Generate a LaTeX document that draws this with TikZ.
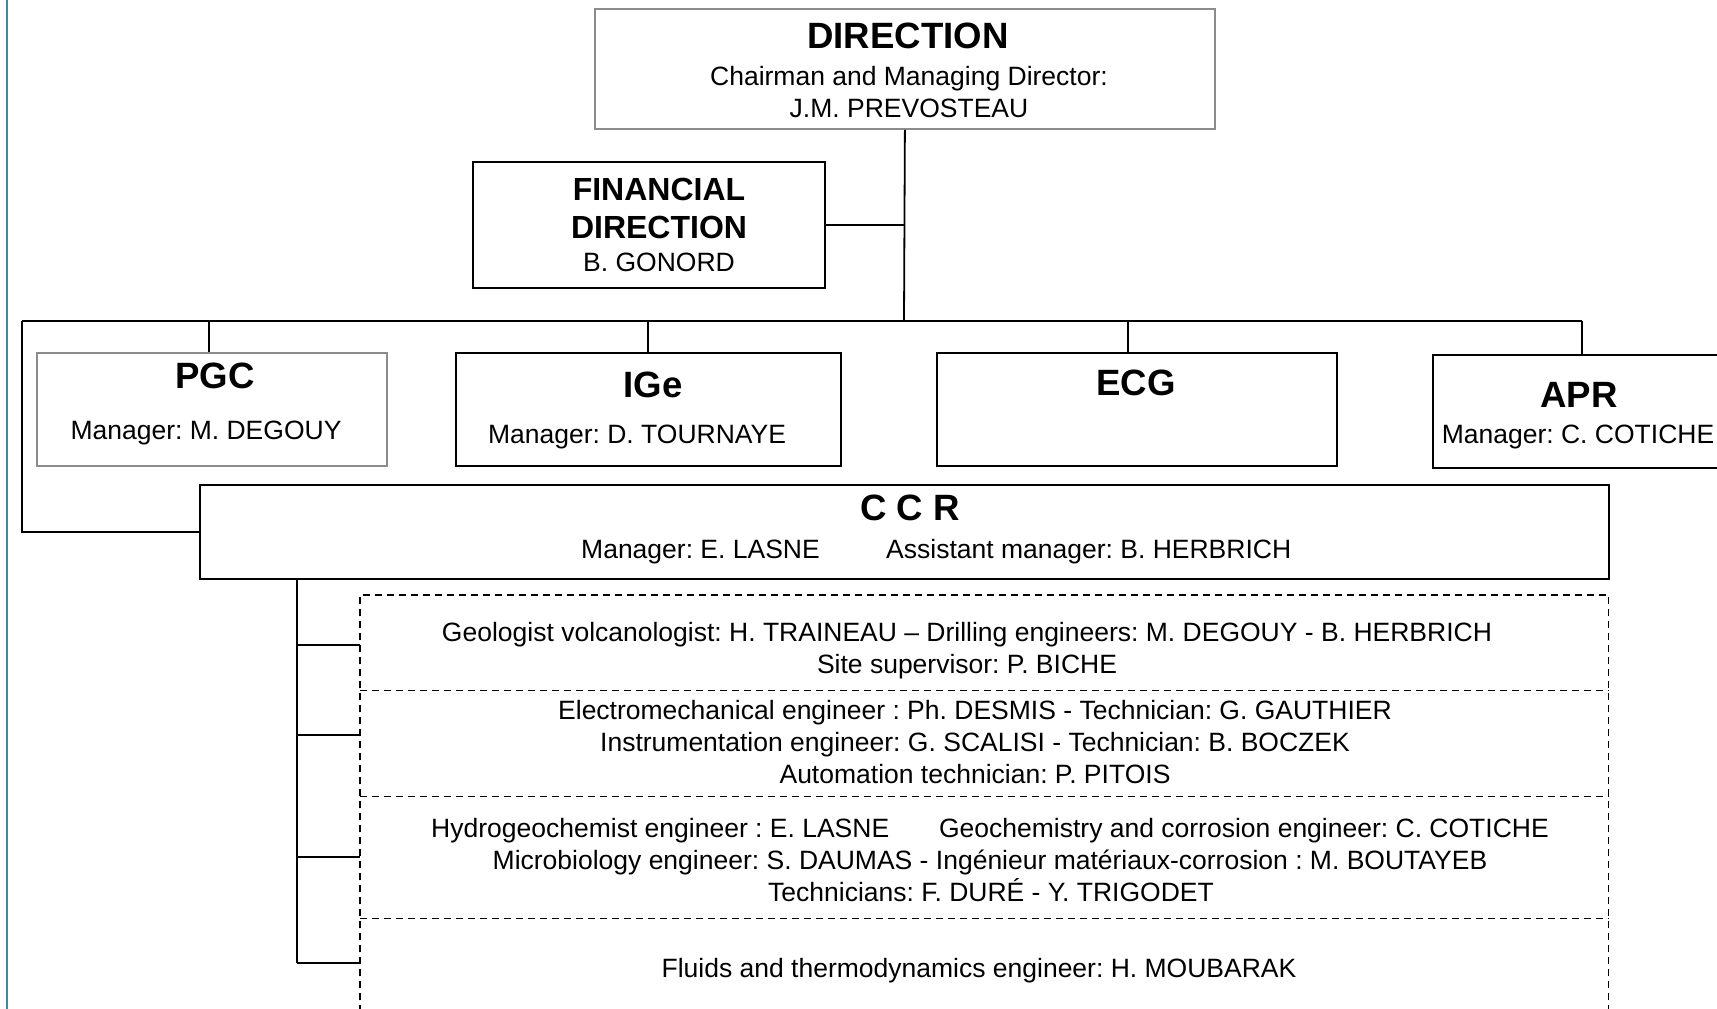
\documentclass[tikz,border=0pt]{standalone}
\usepackage{fontspec}
\setmainfont{Liberation Sans}
\frenchspacing
\definecolor{edgeblue}{RGB}{72,132,160}
\definecolor{boxgray}{RGB}{140,140,140}
\begin{document}
\begin{tikzpicture}[x=1pt,y=-1pt,
  box/.style={draw=black,line width=1.8pt,rectangle,inner sep=0pt,anchor=north west},
  graybox/.style={box,draw=boxgray},
  row/.style={draw=none,rectangle,inner sep=0pt,anchor=north west,minimum width=1248pt},
  dashline/.style={line width=1.5pt,dash pattern=on 7pt off 5pt},
  conn/.style={line width=1.8pt},
  txt/.style={font=\fontsize{26.5}{31}\selectfont,inner sep=0pt,anchor=base},
  big/.style={font=\fontsize{36.6}{44}\selectfont\bfseries,inner sep=0pt,anchor=base},
  fin/.style={font=\fontsize{32}{38}\selectfont\bfseries,inner sep=0pt,anchor=base}]
\path[use as bounding box] (0,0) rectangle (1717,1009);
\clip (0,0) rectangle (1717,1009);
\fill[white] (0,0) rectangle (1717,1009);

% left page edge
\draw[edgeblue,line width=2.5pt] (7,-5) -- (7,1015);

% boxes
\node[graybox,minimum width=620pt,minimum height=120pt] (dir) at (594,8) {};
\node[box,minimum width=352pt,minimum height=126pt] (fin) at (472,161) {};
\node[graybox,minimum width=350pt,minimum height=113pt] (pgc) at (36,352) {};
\node[box,minimum width=385pt,minimum height=113pt] (ige) at (455,352) {};
\node[box,minimum width=400pt,minimum height=113pt] (ecg) at (936,352) {};
\node[box,minimum width=330pt,minimum height=113pt] (apr) at (1432,354) {};
\node[box,minimum width=1409pt,minimum height=94pt] (ccr) at (199,484) {};

% dashed team rows
\node[row,minimum height=95pt] (r1) at (360,595) {};
\node[row,minimum height=106pt] (r2) at (360,690) {};
\node[row,minimum height=122pt] (r3) at (360,796) {};
\node[row,minimum height=130pt] (r4) at (360,918) {};
\draw[dashline] (r4.south west) -- (r1.north west) -- (r1.north east) -- (r4.south east);
\draw[dashline] (r1.south west) -- (r1.south east);
\draw[dashline] (r2.south west) -- (r2.south east);
\draw[dashline] (r3.south west) -- (r3.south east);

% connectors
\coordinate (hub) at (904,321);
\coordinate (busL) at (22,321);
\coordinate (busR) at (1582,321);
\coordinate (tP) at (209,321);
\coordinate (tI) at (648,321);
\coordinate (tE) at (1128,321);
\draw[conn] (dir.south) -- (hub);
\draw[conn] (fin.east) -- (fin.east -| hub);
\draw[conn] (busL) -- (busR);
\draw[conn] (tP) -- (tP |- pgc.north);
\draw[conn] (tI) -- (tI |- ige.north);
\draw[conn] (tE) -- (tE |- ecg.north);
\draw[conn] (busR) -- (busR |- apr.north);
\draw[conn] (busL) |- (ccr.west);

\coordinate (cv) at (297,578);
\coordinate (b1) at (297,645);
\coordinate (b2) at (297,735);
\coordinate (b3) at (297,857);
\coordinate (b4) at (297,963);
\draw[conn] (cv) -- (b4);
\draw[conn] (b1) -- (b1 -| r1.west);
\draw[conn] (b2) -- (b2 -| r2.west);
\draw[conn] (b3) -- (b3 -| r3.west);
\draw[conn] (b4) -- (b4 -| r4.west);

% texts
\node[big] (tdir) at (908,48) {DIRECTION};
\node[txt] (tdir2) at (909,85) {Chairman and Managing Director:};
\node[txt] (tdir3) at (909,117) {J.M. PREVOSTEAU};

\node[fin] (tfin1) at (659,200) {FINANCIAL};
\node[fin] (tfin2) at (659,238) {DIRECTION};
\node[txt] (tfin3) at (659,271) {B. GONORD};

\node[big] (tpgc) at (215,388) {PGC};
\node[txt] (tpgc2) at (206,439) {Manager: M. DEGOUY};

\node[big] (tige) at (653,397) {IGe};
\node[txt] (tige2) at (637,443) {Manager: D. TOURNAYE};

\node[big] (tecg) at (1136,395) {ECG};

\node[big] (tapr) at (1579,407) {APR};
\node[txt] (tapr2) at (1578,443) {Manager: C. COTICHE};

\node[big] (tccr) at (910,520) {C C R};
\node[txt,anchor=base west] (tccr2) at (581,558) {Manager: E. LASNE};
\node[txt,anchor=base west] (tccr3) at (886,558) {Assistant manager: B. HERBRICH};

\node[txt] (t11) at (967,641) {Geologist volcanologist: H. TRAINEAU – Drilling engineers: M. DEGOUY - B. HERBRICH};
\node[txt] (t12) at (967,673) {Site supervisor: P. BICHE};

\node[txt] (t21) at (975,719) {Electromechanical engineer : Ph. DESMIS - Technician: G. GAUTHIER};
\node[txt] (t22) at (975,751) {Instrumentation engineer: G. SCALISI - Technician: B. BOCZEK};
\node[txt] (t23) at (975,783) {Automation technician: P. PITOIS};

\node[txt,anchor=base west] (t31a) at (431,837) {Hydrogeochemist engineer : E. LASNE};
\node[txt,anchor=base east] (t31b) at (1549,837) {Geochemistry and corrosion engineer: C. COTICHE};
\node[txt] (t32) at (990,869) {Microbiology engineer: S. DAUMAS - Ingénieur matériaux-corrosion : M. BOUTAYEB};
\node[txt] (t33) at (991,901) {Technicians: F. DURÉ - Y. TRIGODET};

\node[txt] (t41) at (979,977) {Fluids and thermodynamics engineer: H. MOUBARAK};
\end{tikzpicture}
\end{document}
